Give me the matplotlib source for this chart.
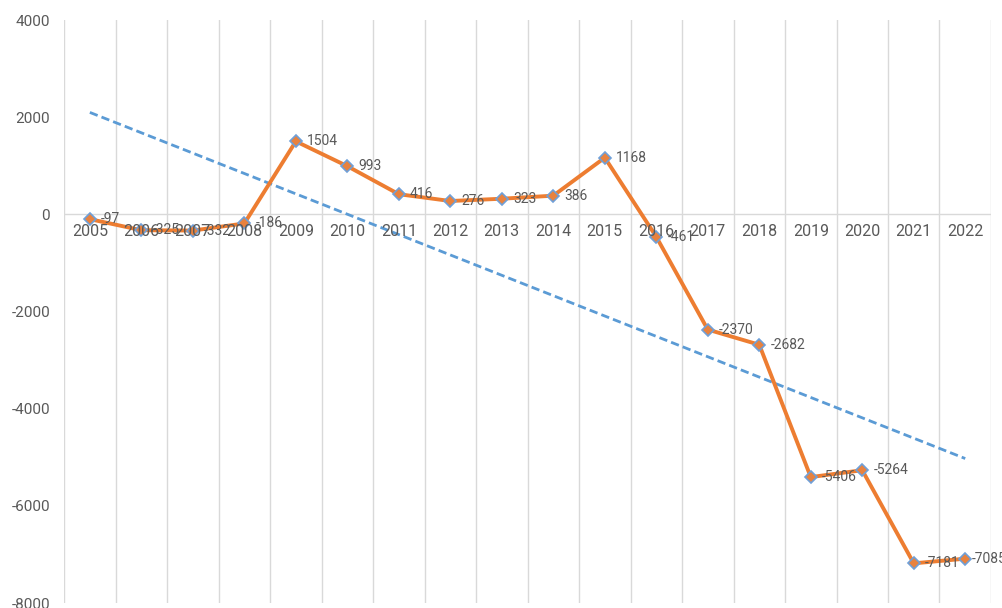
import numpy as np
import matplotlib.pyplot as plt

plt.rcParams['font.family'] = ['Roboto', 'DejaVu Sans']

years = [str(y) for y in range(2005, 2023)]
values = [-97, -325, -332, -186, 1504, 993, 416, 276, 323, 386, 1168,
          -461, -2370, -2682, -5406, -5264, -7181, -7085]
y_ticks = [-8000, -6000, -4000, -2000, 0, 2000, 4000]

fig = plt.figure(figsize=(10.02, 6.08), dpi=100)
ax = fig.add_axes([0.064, 0.008, 0.925, 0.959])

x = np.arange(len(years))
gray = '#595959'

# vertical grid between categories
for b in np.arange(-0.5, len(years) + 0.5, 1):
    ax.axvline(b, color='#d9d9d9', lw=1, zorder=0)
ax.axhline(0, color='#d9d9d9', lw=1, zorder=1)

# linear trend
k, c = np.polyfit(x, values, 1)
ax.plot(x, k * x + c, ls='--', color='#5b9bd5', lw=2, dashes=(3, 1.5), zorder=2)

ax.plot(x, values, color='#ed7d31', lw=2.8, marker='D', ms=6,
        mfc='#e8823f', mec='#6fa0d8', mew=1.2, zorder=3)

for xi, v in zip(x, values):
    dx = 5 if xi == len(x) - 1 else 8
    ax.annotate(str(v), (xi, v), xytext=(dx, 0), textcoords='offset points',
                color=gray, fontsize=10, va='center', ha='left', zorder=4)

for xi, yr in zip(x, years):
    ax.text(xi, -190, yr, ha='center', va='top', color=gray, fontsize=11.5)

ax.set_xlim(-0.5, len(years) - 0.5)
ax.set_ylim(-8000, 4000)
ax.set_xticks([])
ax.set_yticks(y_ticks)
ax.set_yticklabels([str(t) for t in y_ticks], color=gray, fontsize=11)
ax.tick_params(axis='y', length=0, pad=10)
for s in ax.spines.values():
    s.set_visible(False)

fig.savefig('out.png', dpi=100)
